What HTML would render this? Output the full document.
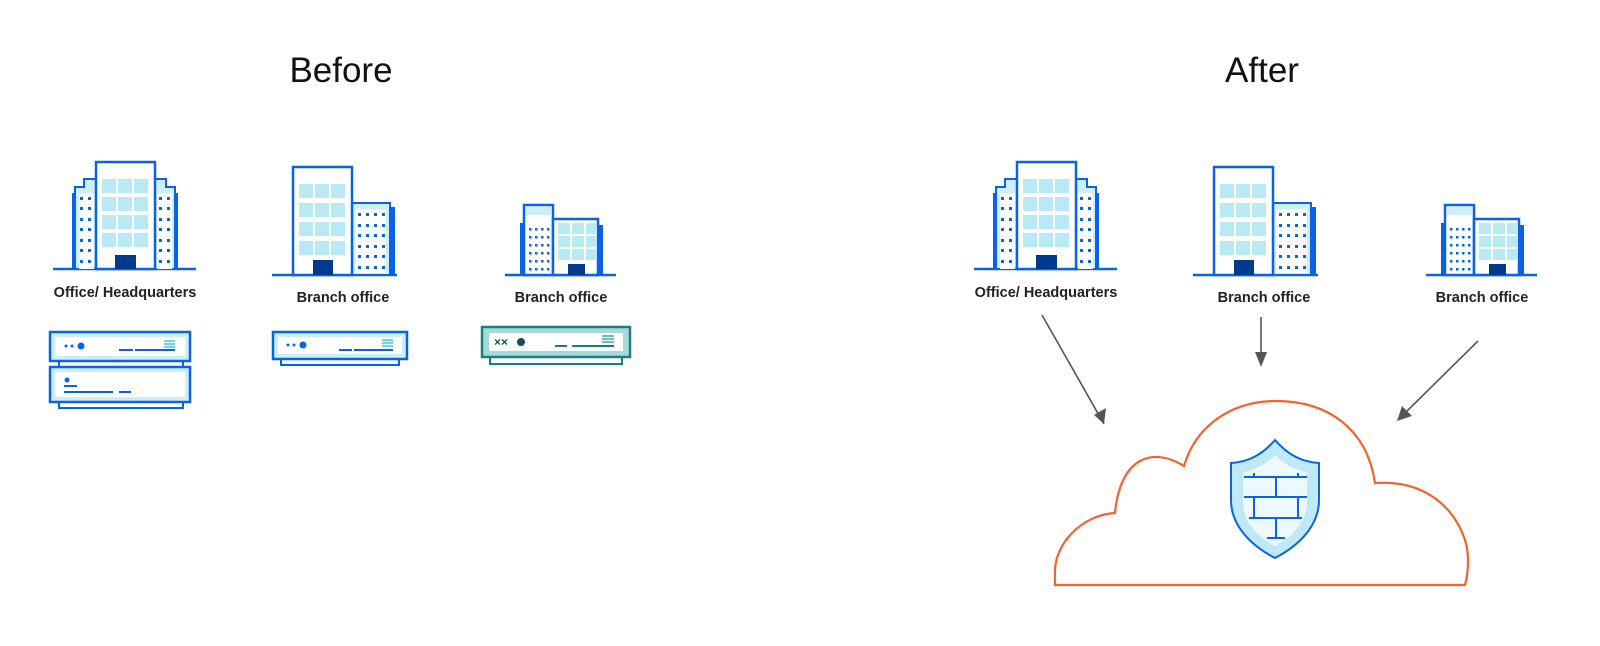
<!DOCTYPE html>
<html><head><meta charset="utf-8"><style>
html,body{margin:0;padding:0;background:#fff;}
svg{display:block;}
text{font-family:"Liberation Sans",Arial,sans-serif;}
</style></head><body>
<svg width="1600" height="646" viewBox="0 0 1600 646" xmlns="http://www.w3.org/2000/svg">
<defs>
<g id="hq">
  <line x1="53" y1="269" x2="196" y2="269" stroke="#0a63e6" stroke-width="2.5"/>
  <rect x="72" y="193" width="6" height="76" fill="#0a63e6"/>
  <rect x="172" y="193" width="6" height="76" fill="#0a63e6"/>
  <path d="M75,269 V187 H84 V179 H96 V269 Z" fill="#cdeef7" stroke="#0a63e6" stroke-width="2"/>
  <path d="M175,269 V187 H166 V179 H155 V269 Z" fill="#cdeef7" stroke="#0a63e6" stroke-width="2"/>
  <rect x="79" y="193" width="15" height="76" fill="#fff"/>
  <rect x="157" y="193" width="15" height="76" fill="#fff"/>
  <rect x="96" y="162" width="59" height="107" fill="#fff" stroke="#0a63e6" stroke-width="2.5"/>
  <g fill="#b9e9f5">
    <rect x="102" y="179" width="14" height="14"/><rect x="118" y="179" width="14" height="14"/><rect x="134" y="179" width="14" height="14"/>
    <rect x="102" y="197" width="14" height="14"/><rect x="118" y="197" width="14" height="14"/><rect x="134" y="197" width="14" height="14"/>
    <rect x="102" y="215" width="14" height="14"/><rect x="118" y="215" width="14" height="14"/><rect x="134" y="215" width="14" height="14"/>
    <rect x="102" y="233" width="14" height="14"/><rect x="118" y="233" width="14" height="14"/><rect x="134" y="233" width="14" height="14"/>
  </g>
  <rect x="115" y="255" width="21" height="14" fill="#003a8c"/>
  <g fill="#0a63e6">
    <rect x="80" y="197" width="3" height="3"/><rect x="88" y="197" width="3" height="3"/><rect x="159" y="197" width="3" height="3"/><rect x="167" y="197" width="3" height="3"/>
    <rect x="80" y="207" width="3" height="3"/><rect x="88" y="207" width="3" height="3"/><rect x="159" y="207" width="3" height="3"/><rect x="167" y="207" width="3" height="3"/>
    <rect x="80" y="218" width="3" height="3"/><rect x="88" y="218" width="3" height="3"/><rect x="159" y="218" width="3" height="3"/><rect x="167" y="218" width="3" height="3"/>
    <rect x="80" y="228" width="3" height="3"/><rect x="88" y="228" width="3" height="3"/><rect x="159" y="228" width="3" height="3"/><rect x="167" y="228" width="3" height="3"/>
    <rect x="80" y="239" width="3" height="3"/><rect x="88" y="239" width="3" height="3"/><rect x="159" y="239" width="3" height="3"/><rect x="167" y="239" width="3" height="3"/>
    <rect x="80" y="249" width="3" height="3"/><rect x="88" y="249" width="3" height="3"/><rect x="159" y="249" width="3" height="3"/><rect x="167" y="249" width="3" height="3"/>
    <rect x="80" y="260" width="3" height="3"/><rect x="88" y="260" width="3" height="3"/><rect x="159" y="260" width="3" height="3"/><rect x="167" y="260" width="3" height="3"/>
  </g>
  <text x="125" y="297" font-size="14.5" font-weight="bold" text-anchor="middle" fill="#222">Office/ Headquarters</text>
</g>
<g id="br">
  <line x1="272" y1="275" x2="397" y2="275" stroke="#0a63e6" stroke-width="2.5"/>
  <rect x="389" y="207" width="6" height="68" fill="#0a63e6"/>
  <rect x="352" y="203" width="38" height="72" fill="#cdeef7" stroke="#0a63e6" stroke-width="2"/>
  <rect x="355" y="209" width="31" height="64" fill="#fff"/>
  <rect x="293" y="167" width="59" height="108" fill="#fff" stroke="#0a63e6" stroke-width="2.5"/>
  <g fill="#b9e9f5">
    <rect x="299" y="184" width="14" height="14"/><rect x="315" y="184" width="14" height="14"/><rect x="331" y="184" width="14" height="14"/>
    <rect x="299" y="203" width="14" height="14"/><rect x="315" y="203" width="14" height="14"/><rect x="331" y="203" width="14" height="14"/>
    <rect x="299" y="222" width="14" height="14"/><rect x="315" y="222" width="14" height="14"/><rect x="331" y="222" width="14" height="14"/>
    <rect x="299" y="241" width="14" height="14"/><rect x="315" y="241" width="14" height="14"/><rect x="331" y="241" width="14" height="14"/>
  </g>
  <rect x="313" y="260" width="20" height="15" fill="#003a8c"/>
  <g fill="#0a63e6">
    <rect x="358" y="213" width="3" height="3"/><rect x="366" y="213" width="3" height="3"/><rect x="374" y="213" width="3" height="3"/><rect x="382" y="213" width="3" height="3"/>
    <rect x="358" y="224" width="3" height="3"/><rect x="366" y="224" width="3" height="3"/><rect x="374" y="224" width="3" height="3"/><rect x="382" y="224" width="3" height="3"/>
    <rect x="358" y="234" width="3" height="3"/><rect x="366" y="234" width="3" height="3"/><rect x="374" y="234" width="3" height="3"/><rect x="382" y="234" width="3" height="3"/>
    <rect x="358" y="245" width="3" height="3"/><rect x="366" y="245" width="3" height="3"/><rect x="374" y="245" width="3" height="3"/><rect x="382" y="245" width="3" height="3"/>
    <rect x="358" y="255" width="3" height="3"/><rect x="366" y="255" width="3" height="3"/><rect x="374" y="255" width="3" height="3"/><rect x="382" y="255" width="3" height="3"/>
    <rect x="358" y="266" width="3" height="3"/><rect x="366" y="266" width="3" height="3"/><rect x="374" y="266" width="3" height="3"/><rect x="382" y="266" width="3" height="3"/>
  </g>
  <text x="343" y="302" font-size="14.5" font-weight="bold" text-anchor="middle" fill="#222">Branch office</text>
</g>
<g id="sm">
  <line x1="505" y1="275" x2="616" y2="275" stroke="#0a63e6" stroke-width="2.5"/>
  <rect x="520" y="223" width="6" height="52" fill="#0a63e6"/>
  <rect x="597" y="225" width="6" height="50" fill="#0a63e6"/>
  <rect x="524" y="205" width="29" height="70" fill="#fff" stroke="#0a63e6" stroke-width="2.5"/>
  <rect x="526" y="207" width="25" height="8" fill="#cdeef7"/>
  <rect x="553" y="219" width="45" height="56" fill="#fff" stroke="#0a63e6" stroke-width="2.5"/>
  <g fill="#b9e9f5">
    <rect x="558" y="223" width="12" height="11"/><rect x="572" y="223" width="12" height="11"/><rect x="586" y="223" width="11" height="11"/>
    <rect x="558" y="236" width="12" height="11"/><rect x="572" y="236" width="12" height="11"/><rect x="586" y="236" width="11" height="11"/>
    <rect x="558" y="249" width="12" height="11"/><rect x="572" y="249" width="12" height="11"/><rect x="586" y="249" width="11" height="11"/>
  </g>
  <rect x="568" y="264" width="17" height="11" fill="#003a8c"/>
  <g fill="#0a63e6">
    <rect x="529" y="228" width="2.5" height="2.5"/><rect x="535" y="228" width="2.5" height="2.5"/><rect x="541" y="228" width="2.5" height="2.5"/><rect x="547" y="228" width="2.5" height="2.5"/>
    <rect x="529" y="236" width="2.5" height="2.5"/><rect x="535" y="236" width="2.5" height="2.5"/><rect x="541" y="236" width="2.5" height="2.5"/><rect x="547" y="236" width="2.5" height="2.5"/>
    <rect x="529" y="244" width="2.5" height="2.5"/><rect x="535" y="244" width="2.5" height="2.5"/><rect x="541" y="244" width="2.5" height="2.5"/><rect x="547" y="244" width="2.5" height="2.5"/>
    <rect x="529" y="252" width="2.5" height="2.5"/><rect x="535" y="252" width="2.5" height="2.5"/><rect x="541" y="252" width="2.5" height="2.5"/><rect x="547" y="252" width="2.5" height="2.5"/>
    <rect x="529" y="260" width="2.5" height="2.5"/><rect x="535" y="260" width="2.5" height="2.5"/><rect x="541" y="260" width="2.5" height="2.5"/><rect x="547" y="260" width="2.5" height="2.5"/>
    <rect x="529" y="268" width="2.5" height="2.5"/><rect x="535" y="268" width="2.5" height="2.5"/><rect x="541" y="268" width="2.5" height="2.5"/><rect x="547" y="268" width="2.5" height="2.5"/>
  </g>
  <text x="561" y="302" font-size="14.5" font-weight="bold" text-anchor="middle" fill="#222">Branch office</text>
</g>
</defs>

<text x="341" y="82" font-size="35" text-anchor="middle" fill="#111">Before</text>
<text x="1262" y="82" font-size="35" text-anchor="middle" fill="#111">After</text>

<use href="#hq"/><use href="#br"/><use href="#sm"/>
<g transform="translate(921,0)"><use href="#hq"/><use href="#br"/><use href="#sm"/></g>

<!-- HQ devices -->
<rect x="59" y="361" width="124" height="6" fill="#fff" stroke="#0a63e6" stroke-width="2"/>
<rect x="50" y="332" width="140" height="29" fill="#cdeef7" stroke="#0a63e6" stroke-width="2.5"/>
<rect x="55" y="337" width="130" height="19" fill="#fff"/>
<circle cx="66" cy="346" r="1.5" fill="#0a63e6"/><circle cx="72" cy="346" r="1.5" fill="#0a63e6"/><circle cx="81" cy="346" r="3.5" fill="#0a63e6"/>
<line x1="119" y1="350" x2="133" y2="350" stroke="#0a63e6" stroke-width="2"/><line x1="135" y1="350" x2="175" y2="350" stroke="#0a63e6" stroke-width="2"/>
<line x1="164" y1="341" x2="175" y2="341" stroke="#3fc7e0" stroke-width="1.5"/><line x1="164" y1="344" x2="175" y2="344" stroke="#3fc7e0" stroke-width="1.5"/><line x1="164" y1="347" x2="175" y2="347" stroke="#3fc7e0" stroke-width="1.5"/>
<rect x="59" y="402" width="124" height="6" fill="#fff" stroke="#0a63e6" stroke-width="2"/>
<rect x="50" y="367" width="140" height="35" fill="#cdeef7" stroke="#0a63e6" stroke-width="2.5"/>
<rect x="55" y="372" width="130" height="25" fill="#fff"/>
<circle cx="67" cy="380" r="2.5" fill="#0a63e6"/>
<line x1="64" y1="386" x2="77" y2="386" stroke="#0a63e6" stroke-width="2"/>
<line x1="64" y1="392" x2="113" y2="392" stroke="#0a63e6" stroke-width="2"/><line x1="119" y1="392" x2="131" y2="392" stroke="#0a63e6" stroke-width="2"/>

<!-- branch device -->
<rect x="281" y="359" width="118" height="6" fill="#fff" stroke="#0a63e6" stroke-width="2"/>
<rect x="273" y="332" width="134" height="27" fill="#cdeef7" stroke="#0a63e6" stroke-width="2.5"/>
<rect x="278" y="337" width="124" height="17" fill="#fff"/>
<circle cx="288" cy="345" r="1.5" fill="#0a63e6"/><circle cx="294" cy="345" r="1.5" fill="#0a63e6"/><circle cx="303" cy="345" r="3.5" fill="#0a63e6"/>
<line x1="339" y1="350" x2="352" y2="350" stroke="#0a63e6" stroke-width="2"/><line x1="354" y1="350" x2="393" y2="350" stroke="#0a63e6" stroke-width="2"/>
<line x1="382" y1="340" x2="393" y2="340" stroke="#3fc7e0" stroke-width="1.5"/><line x1="382" y1="343" x2="393" y2="343" stroke="#3fc7e0" stroke-width="1.5"/><line x1="382" y1="346" x2="393" y2="346" stroke="#3fc7e0" stroke-width="1.5"/>

<!-- teal device -->
<rect x="490" y="357" width="132" height="7" fill="#fff" stroke="#1a7f80" stroke-width="2"/>
<rect x="482" y="327" width="148" height="30" fill="#a8d9d9" stroke="#1a7f80" stroke-width="2.5"/>
<rect x="489" y="333" width="134" height="18" fill="#fff"/>
<text x="494" y="346" font-size="12" font-weight="bold" fill="#124f55">××</text>
<circle cx="521" cy="342" r="4" fill="#124f55"/>
<line x1="555" y1="346" x2="567" y2="346" stroke="#1a7f80" stroke-width="2"/><line x1="572" y1="346" x2="614" y2="346" stroke="#1a7f80" stroke-width="2"/>
<line x1="602" y1="336" x2="614" y2="336" stroke="#3aa7a7" stroke-width="1.5"/><line x1="602" y1="339" x2="614" y2="339" stroke="#3aa7a7" stroke-width="1.5"/><line x1="602" y1="342" x2="614" y2="342" stroke="#3aa7a7" stroke-width="1.5"/>

<!-- arrows -->
<defs><marker id="ah" markerWidth="10" markerHeight="10" refX="9" refY="5" orient="auto" markerUnits="userSpaceOnUse"><path d="M0,0 L10,5 L0,10 Z" fill="#555"/></marker></defs>
<g stroke="#555" stroke-width="1.6" fill="none">
<line x1="1042" y1="315" x2="1104" y2="424"/>
<path d="M1104,424 l-10,-9 l12,-7 z" fill="#555" stroke="none"/>
<line x1="1261" y1="317" x2="1261" y2="358"/>
<path d="M1255,352 L1267,352 L1261,367 Z" fill="#555" stroke="none"/>
<line x1="1478" y1="341" x2="1402" y2="416"/>
<path d="M1397,421 L1402,406 L1412,416 Z" fill="#555" stroke="none"/>
</g>

<!-- cloud -->
<path d="M1055,585 L1465,585 C1469,570 1469,552 1465,540 C1453,505 1423,480 1375,483 C1367,428 1327,401 1276,401 C1229,401 1195,428 1184,466 C1152,446 1120,458 1115,513 C1081,515 1053,545 1055,575 Z" fill="#fff" stroke="#f5622d" stroke-width="2.2"/>

<!-- shield -->
<path d="M1275,440 C1262,455 1248,462 1231,463 L1231,500 C1231,525 1250,545 1275,558 C1300,545 1319,525 1319,500 L1319,463 C1302,462 1288,455 1275,440 Z" fill="#bfe9f5" stroke="#0a63e6" stroke-width="2"/>
<path d="M1275,455 C1266,464 1256,470 1243,472 L1243,502 C1243,520 1256,536 1275,546 C1294,536 1307,520 1307,502 L1307,472 C1294,470 1284,464 1275,455 Z" fill="#eef9fd"/>
<g stroke="#0a63e6" stroke-width="2">
<line x1="1244" y1="477" x2="1307" y2="477"/>
<line x1="1244" y1="497" x2="1307" y2="497"/>
<line x1="1249" y1="518" x2="1302" y2="518"/>
<line x1="1267" y1="538" x2="1285" y2="538"/>
<line x1="1254" y1="473" x2="1254" y2="477"/><line x1="1298" y1="473" x2="1298" y2="477"/>
<line x1="1276" y1="477" x2="1276" y2="497"/>
<line x1="1254" y1="497" x2="1254" y2="518"/><line x1="1298" y1="497" x2="1298" y2="518"/>
<line x1="1276" y1="518" x2="1276" y2="538"/>
</g>
</svg>
</body></html>
